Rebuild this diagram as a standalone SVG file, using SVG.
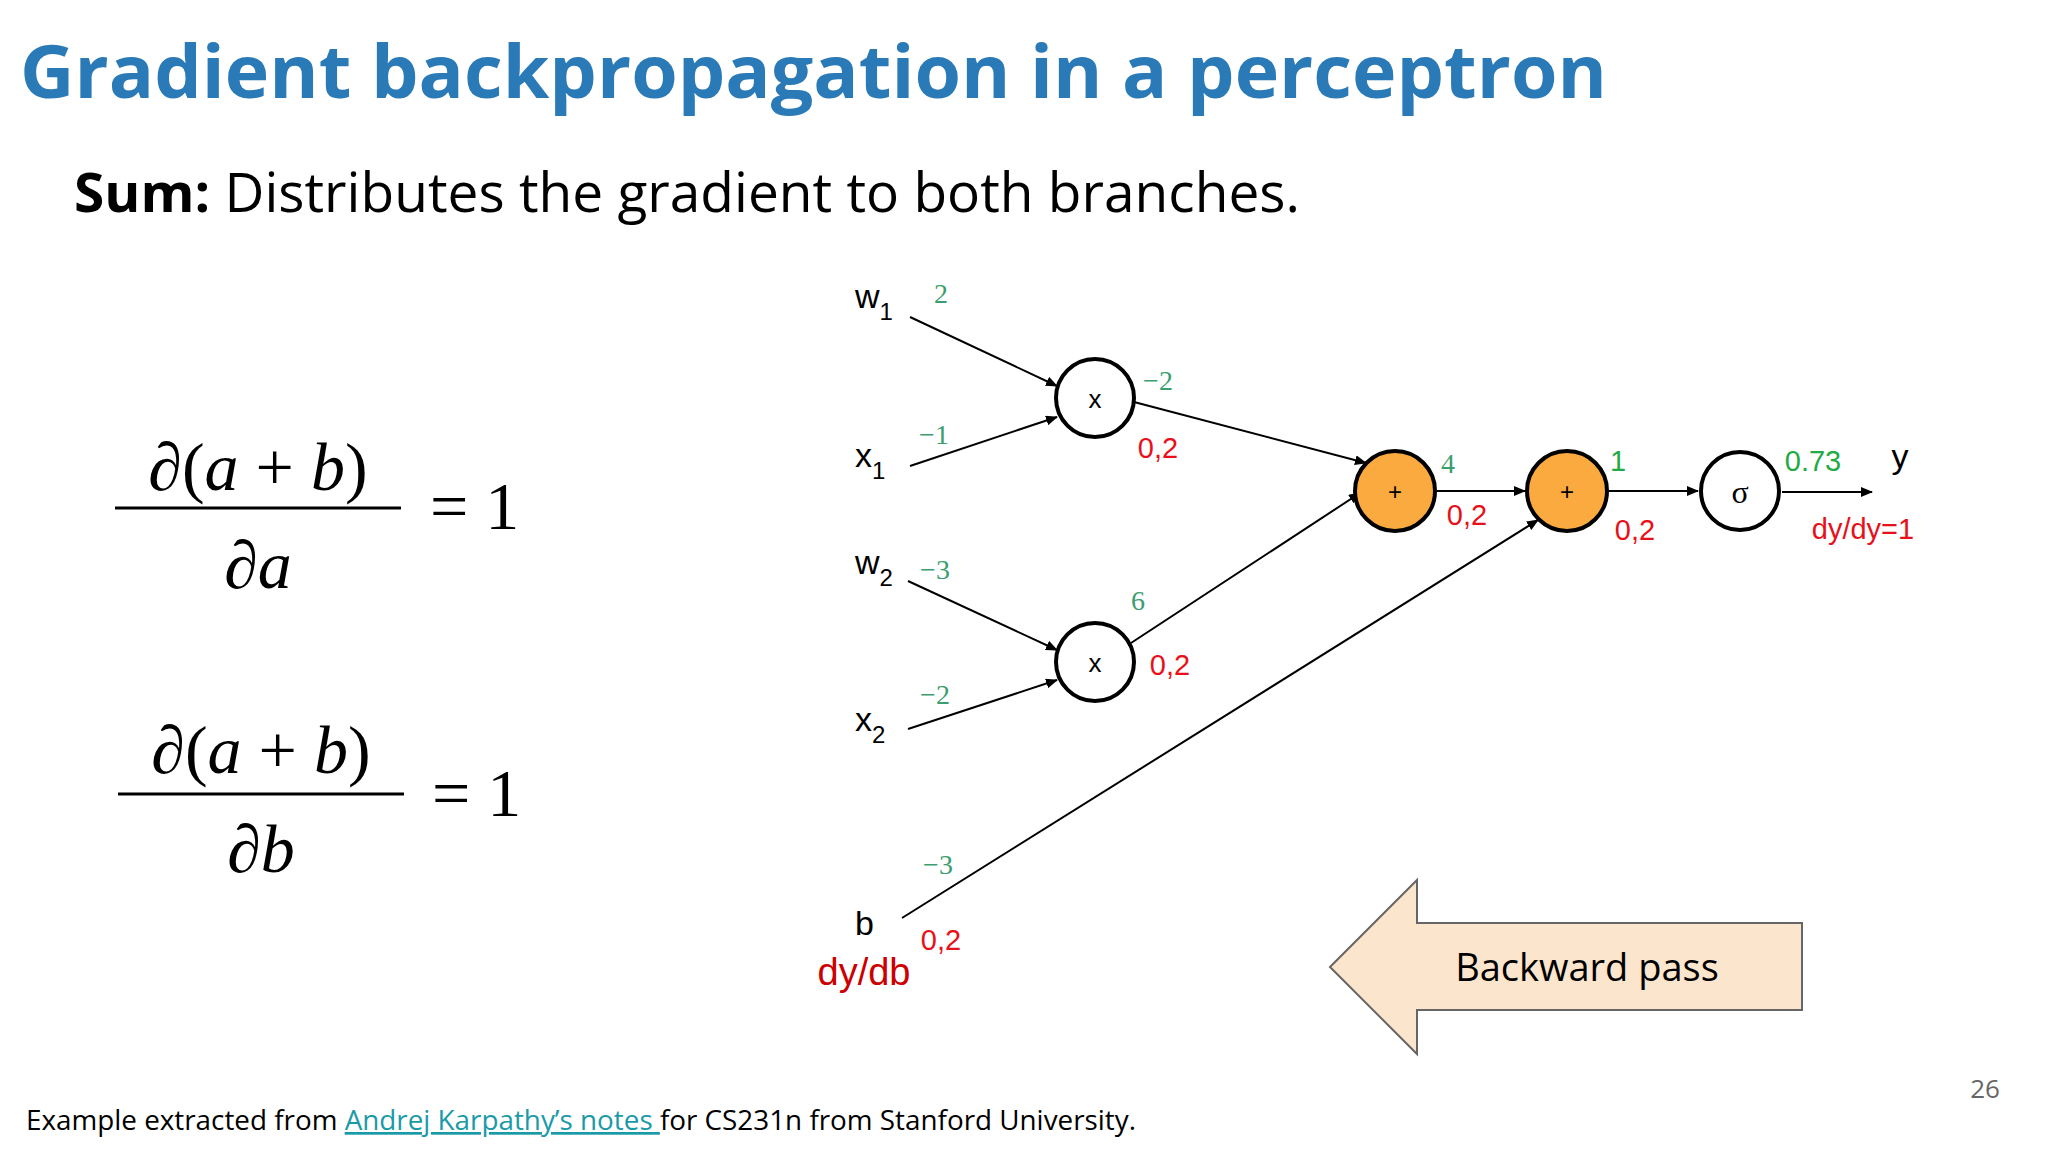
<svg xmlns="http://www.w3.org/2000/svg" width="2048" height="1152" viewBox="0 0 2048 1152">
<style>
.t{font-family:"Open Sans","Liberation Sans",sans-serif}
.m{font-family:"Liberation Serif",serif;font-size:68px}
.i{font-style:italic}
.n{fill:#fff;stroke:#000;stroke-width:4}
.o{fill:#fbaa40;stroke:#000;stroke-width:4}
.lbl{font-family:"Liberation Sans",sans-serif;font-size:34px;fill:#000}
.g{font-family:"Liberation Serif",serif;font-size:28px;fill:#3a9e6e}
.gb{font-family:"Liberation Sans",sans-serif;font-size:29px;fill:#22aa44}
.r{font-family:"Liberation Sans",sans-serif;font-size:29px;fill:#e8101a}
.e{stroke:#000;stroke-width:2;fill:none;marker-end:url(#ah)}
</style>
<defs><marker id="ah" markerWidth="12" markerHeight="10" refX="11" refY="5" orient="auto" markerUnits="userSpaceOnUse"><path d="M0,0 L12,5 L0,10 Z" fill="#000"/></marker></defs>
<rect width="2048" height="1152" fill="#fff"/>
<text class="t" x="20" y="98" font-size="74" font-weight="bold" fill="#2a7ab8" textLength="1587" lengthAdjust="spacingAndGlyphs">Gradient backpropagation in a perceptron</text>
<text class="t" x="74" y="212" font-size="54" fill="#000" textLength="1226" lengthAdjust="spacingAndGlyphs"><tspan font-weight="bold">Sum:</tspan> Distributes the gradient to both branches.</text>
<g id="formula1">
<text class="m" x="258" y="490" text-anchor="middle">∂(<tspan class="i">a</tspan> + <tspan class="i">b</tspan>)</text>
<line x1="115" y1="508" x2="401" y2="508" stroke="#000" stroke-width="3"/>
<text class="m" x="258" y="588" text-anchor="middle">∂<tspan class="i">a</tspan></text>
<text class="m" x="430" y="529">= 1</text>
</g>
<g id="formula2">
<text class="m" x="261" y="773" text-anchor="middle">∂(<tspan class="i">a</tspan> + <tspan class="i">b</tspan>)</text>
<line x1="118" y1="794" x2="404" y2="794" stroke="#000" stroke-width="3"/>
<text class="m" x="261" y="872" text-anchor="middle">∂<tspan class="i">b</tspan></text>
<text class="m" x="432" y="816">= 1</text>
</g>
<g id="connectors">
<line class="e" x1="910" y1="317" x2="1057" y2="386"/>
<line class="e" x1="910" y1="466" x2="1057" y2="417"/>
<line class="e" x1="908" y1="581" x2="1057" y2="650"/>
<line class="e" x1="908" y1="729" x2="1057" y2="680"/>
<line class="e" x1="902" y1="918" x2="1538" y2="520"/>
<line class="e" x1="1134" y1="402" x2="1366" y2="463"/>
<line class="e" x1="1131" y1="643" x2="1360" y2="493"/>
<line class="e" x1="1437" y1="491" x2="1525" y2="491"/>
<line class="e" x1="1609" y1="491" x2="1698" y2="491"/>
<line class="e" x1="1782" y1="492" x2="1872" y2="492"/>
</g>
<g id="inputs">
<text class="lbl" x="855" y="308">w<tspan font-size="24" dy="12">1</tspan></text>
<text class="lbl" x="855" y="467">x<tspan font-size="24" dy="12">1</tspan></text>
<text class="lbl" x="855" y="574">w<tspan font-size="24" dy="12">2</tspan></text>
<text class="lbl" x="855" y="731">x<tspan font-size="24" dy="12">2</tspan></text>
<text class="lbl" x="855" y="935">b</text>
</g>
<g id="mult1"><circle class="n" cx="1095" cy="398" r="39"/><text x="1095" y="408" text-anchor="middle" font-family="Liberation Sans,sans-serif" font-size="26">x</text></g>
<g id="mult2"><circle class="n" cx="1095" cy="662" r="39"/><text x="1095" y="672" text-anchor="middle" font-family="Liberation Sans,sans-serif" font-size="26">x</text></g>
<g id="plus1"><circle class="o" cx="1395" cy="491" r="40"/><text x="1395" y="500" text-anchor="middle" font-family="Liberation Sans,sans-serif" font-size="24">+</text></g>
<g id="plus2"><circle class="o" cx="1567" cy="491" r="40"/><text x="1567" y="500" text-anchor="middle" font-family="Liberation Sans,sans-serif" font-size="24">+</text></g>
<g id="sigma"><circle class="n" cx="1740" cy="491" r="39"/><text x="1740" y="503" text-anchor="middle" font-family="Liberation Serif,serif" font-size="32">σ</text></g>
<g id="values">
<text class="g" x="941" y="303" text-anchor="middle">2</text>
<text class="g" x="934" y="444" text-anchor="middle">−1</text>
<text class="g" x="1158" y="390" text-anchor="middle">−2</text>
<text class="g" x="935" y="579" text-anchor="middle">−3</text>
<text class="g" x="1138" y="610" text-anchor="middle">6</text>
<text class="g" x="935" y="704" text-anchor="middle">−2</text>
<text class="g" x="938" y="874" text-anchor="middle">−3</text>
<text class="g" x="1448" y="473" text-anchor="middle">4</text>
<text class="gb" x="1618" y="471" text-anchor="middle">1</text>
<text class="gb" x="1813" y="471" text-anchor="middle">0.73</text>
<text class="lbl" x="1900" y="468" text-anchor="middle">y</text>
<text class="r" x="1158" y="458" text-anchor="middle">0,2</text>
<text class="r" x="1170" y="675" text-anchor="middle">0,2</text>
<text class="r" x="1467" y="525" text-anchor="middle">0,2</text>
<text class="r" x="1635" y="540" text-anchor="middle">0,2</text>
<text class="r" x="1863" y="539" text-anchor="middle">dy/dy=1</text>
<text class="r" x="941" y="950" text-anchor="middle">0,2</text>
<text x="864" y="985" text-anchor="middle" font-family="Liberation Sans,sans-serif" font-size="38" fill="#cc0000">dy/db</text>
</g>
<g id="backward">
<polygon points="1330,967 1417,880 1417,923 1802,923 1802,1010 1417,1010 1417,1054" fill="#fce5cd" stroke="#666" stroke-width="2"/>
<text class="t" x="1587" y="981" text-anchor="middle" font-size="38" fill="#000">Backward pass</text>
</g>
<text class="t" x="1985" y="1098" text-anchor="middle" font-size="26" fill="#666">26</text>
<text class="t" x="26" y="1130" font-size="27" fill="#000" textLength="1110" lengthAdjust="spacingAndGlyphs">Example extracted from <tspan fill="#1a9aa8" text-decoration="underline">Andrej Karpathy’s notes </tspan>for CS231n from Stanford University.</text>
</svg>
